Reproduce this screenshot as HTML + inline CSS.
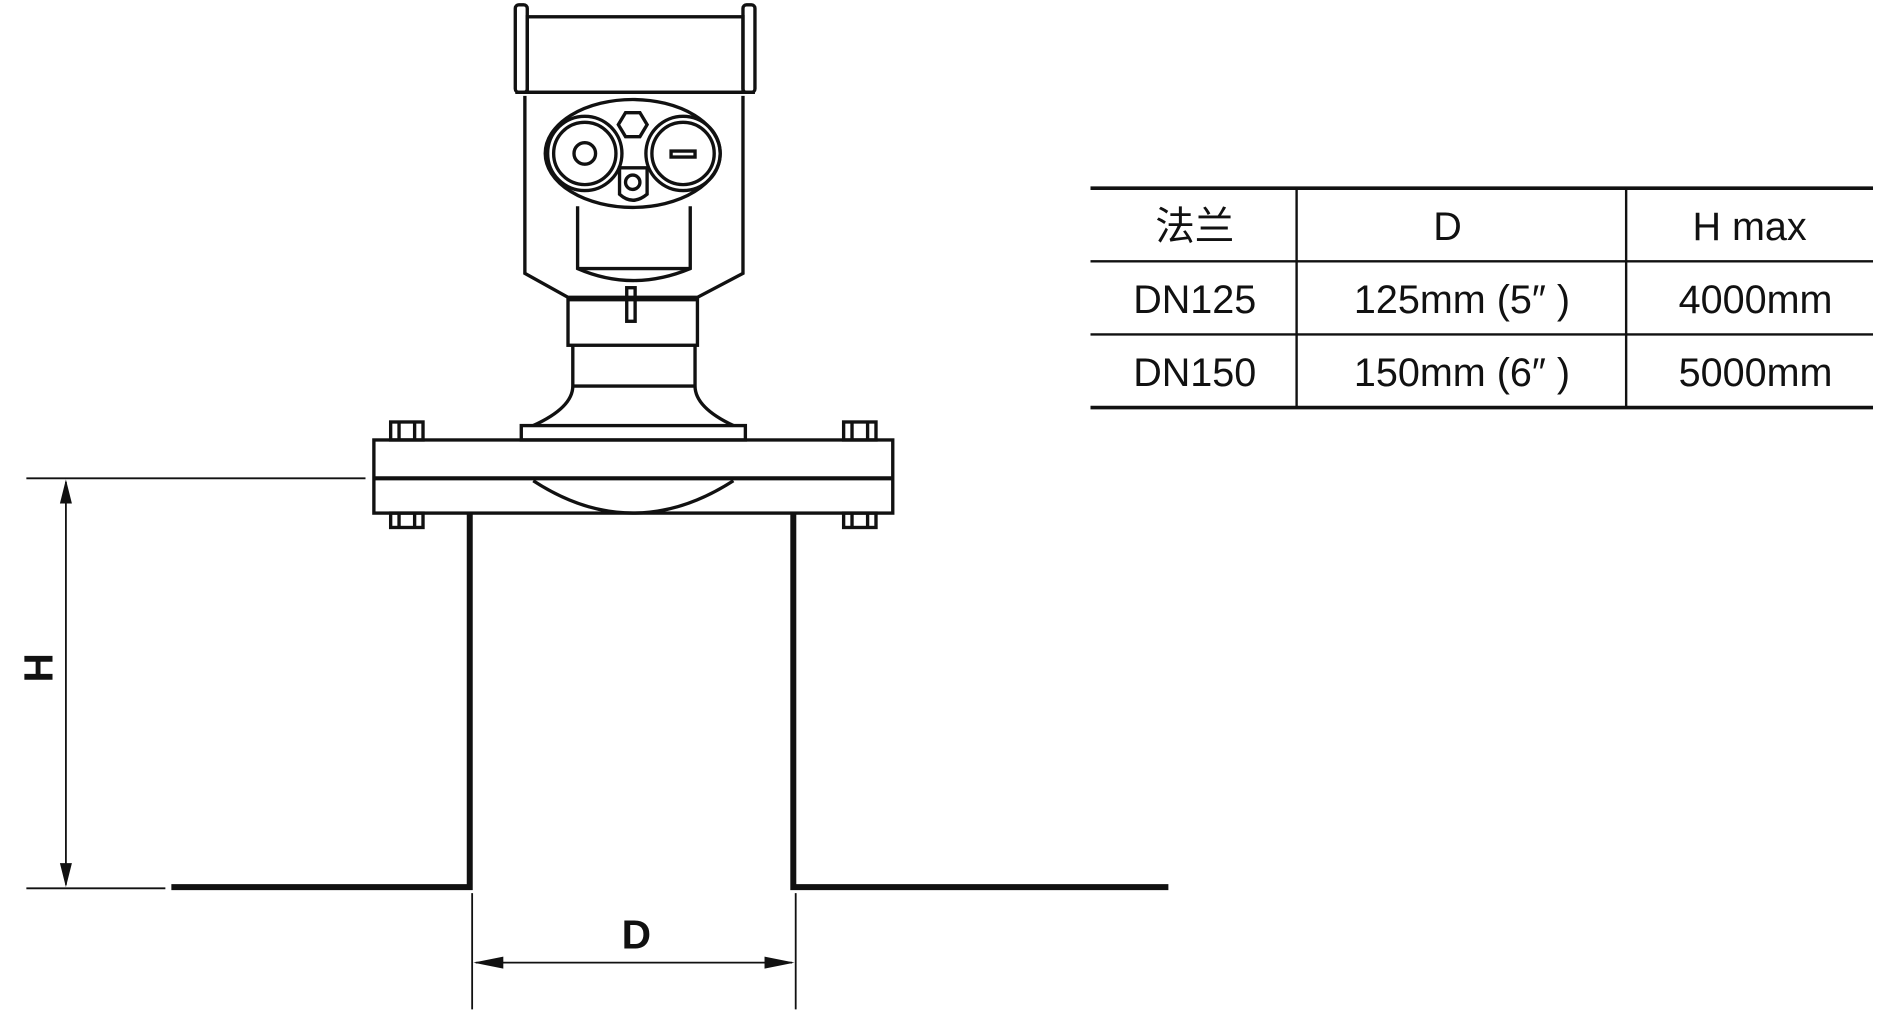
<!DOCTYPE html>
<html><head><meta charset="utf-8"><style>
html,body{margin:0;padding:0;background:#fff;width:1879px;height:1013px;overflow:hidden}
svg{display:block}
text{font-family:"Liberation Sans","Noto Sans CJK SC",sans-serif;fill:#111}
</style></head><body>
<svg width="1879" height="1013" viewBox="0 0 1568 845" preserveAspectRatio="none" xmlns="http://www.w3.org/2000/svg">
<g fill="none" stroke="#111" stroke-width="2.8">
<rect x="430" y="4" width="10" height="73" rx="3"/>
<rect x="620" y="4" width="10" height="73" rx="3"/>
<rect x="440" y="14" width="180" height="63"/>
<line x1="430" y1="77" x2="630" y2="77"/>
<path d="M438 80 V228 L474 248 H582 L620 228 V80"/>
<path d="M482 172 V224 Q528 244 576 224 V172"/>
<line x1="482" y1="224" x2="576" y2="224"/>
<ellipse cx="528" cy="128" rx="73" ry="45" fill="#fff"/>
<circle cx="488" cy="128" r="31"/><circle cx="488" cy="128" r="26"/><circle cx="488" cy="128" r="9"/>
<circle cx="570" cy="128" r="31"/><circle cx="570" cy="128" r="26"/>
<rect x="560" y="126" width="20" height="5"/>
<polygon points="522,94 534,94 540,104 534,114 522,114 516,104"/>
<path d="M517 140 H540 V162 Q528 172 517 162 Z"/>
<circle cx="528" cy="152" r="6"/>
<rect x="523" y="240" width="7" height="28"/>
<rect x="474" y="250" width="108" height="38"/>
<path d="M478 288 V322 Q478 340 445 355"/>
<path d="M580 288 V322 Q580 340 612 355"/>
<line x1="478" y1="322" x2="580" y2="322"/>
<rect x="435" y="355" width="187" height="12"/>
<rect x="312" y="367" width="433" height="61"/>
<line x1="312" y1="399" x2="745" y2="399" stroke-width="3.5"/>
<path d="M445 401 Q528 455 612 401"/>
<g>
<rect x="326" y="352" width="27" height="15"/><line x1="333" y1="352" x2="333" y2="367"/><line x1="346" y1="352" x2="346" y2="367"/>
<rect x="704" y="352" width="27" height="15"/><line x1="711" y1="352" x2="711" y2="367"/><line x1="724" y1="352" x2="724" y2="367"/>
<rect x="326" y="428" width="27" height="12"/><line x1="333" y1="428" x2="333" y2="440"/><line x1="346" y1="428" x2="346" y2="440"/>
<rect x="704" y="428" width="27" height="12"/><line x1="711" y1="428" x2="711" y2="440"/><line x1="724" y1="428" x2="724" y2="440"/>
</g>
<path d="M143 740 H392 V428" stroke-width="5"/>
<path d="M975 740 H662 V428" stroke-width="5"/>
<g stroke-width="1.5">
<line x1="22" y1="399" x2="305" y2="399"/>
<line x1="22" y1="741" x2="138" y2="741"/>
<line x1="55" y1="402" x2="55" y2="738"/>
<line x1="394" y1="745" x2="394" y2="842"/>
<line x1="664" y1="745" x2="664" y2="842"/>
<line x1="397" y1="803" x2="661" y2="803"/>
</g>
</g>
<g fill="#111">
<polygon points="55,400 50,420 60,420"/>
<polygon points="55,740 50,720 60,720"/>
<polygon points="395,803 420,798 420,808"/>
<polygon points="663,803 638,798 638,808"/>
</g>
<text x="0" y="0" font-size="34" font-weight="bold" transform="translate(44,557) rotate(-90)" text-anchor="middle">H</text>
<text x="531" y="791" font-size="34" font-weight="bold" text-anchor="middle">D</text>
<g stroke="#111">
<line x1="910" y1="157" x2="1563" y2="157" stroke-width="3"/>
<line x1="910" y1="218" x2="1563" y2="218" stroke-width="2"/>
<line x1="910" y1="279" x2="1563" y2="279" stroke-width="2"/>
<line x1="910" y1="340" x2="1563" y2="340" stroke-width="3"/>
<line x1="1082" y1="157" x2="1082" y2="340" stroke-width="2"/>
<line x1="1357" y1="157" x2="1357" y2="340" stroke-width="2"/>
</g>
<g font-size="33" text-anchor="middle">
<text x="997" y="200">法兰</text>
<text x="1208" y="200">D</text>
<text x="1460" y="200">H  max</text>
<text x="997" y="261">DN125</text>
<text x="1220" y="261">125mm (5″ )</text>
<text x="1465" y="261">4000mm</text>
<text x="997" y="322">DN150</text>
<text x="1220" y="322">150mm (6″ )</text>
<text x="1465" y="322">5000mm</text>
</g>
</svg>
</body></html>
